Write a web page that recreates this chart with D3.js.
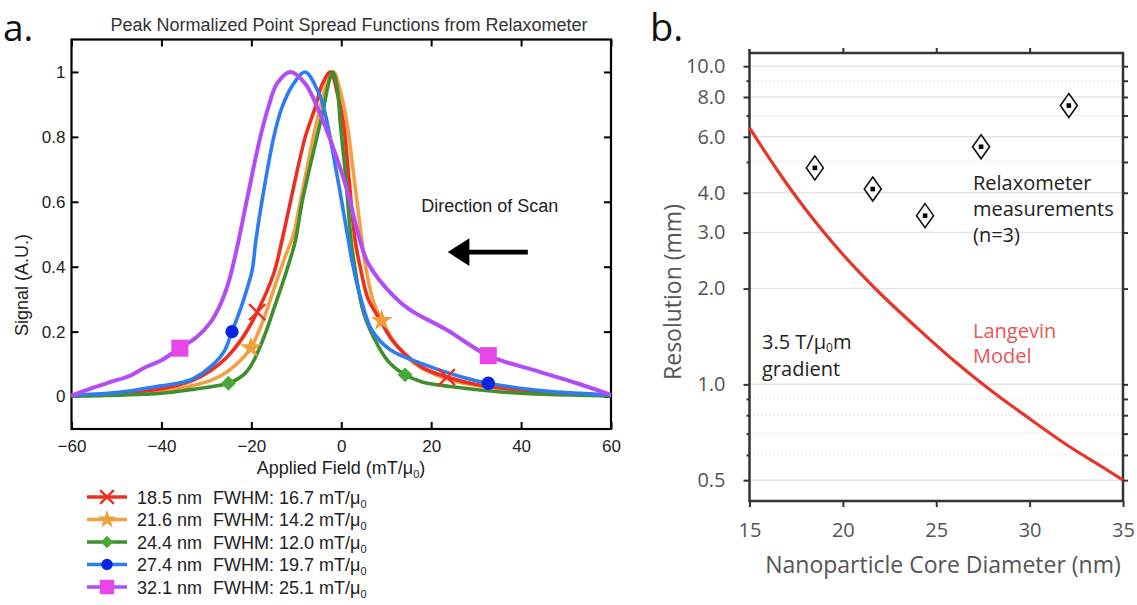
<!DOCTYPE html>
<html>
<head>
<meta charset="utf-8">
<script src="https://cdn.jsdelivr.net/npm/d3@7"></script>
<style>
  body { margin: 0; background: #fff; }
</style>
</head>
<body>
<div id="chart-area"></div>
<script>
// ---------- panel a data ----------
const fieldTicks = [-60, -40, -20, 0, 20, 40, 60]
const signalTicks = [0, 0.2, 0.4, 0.6, 0.8, 1]

const coreSizes = ["18.5 nm", "21.6 nm", "24.4 nm", "27.4 nm", "32.1 nm"]
const fwhmValues = ["16.7", "14.2", "12.0", "19.7", "25.1"]
const lineColors = ["#ee2f20", "#f2a043", "#3f8f2f", "#2c7df2", "#b34cf5"]
const markerColors = ["#ee2f20", "#eea03e", "#48a838", "#0a24e6", "#e846e8"]
const markerShapes = ["x", "star", "diamond", "circle", "square"]

// [applied field, signal]
const psf185 = [[-60,0.003],[-50,0.01],[-40,0.024],[-33,0.05],[-29,0.08],[-25.5,0.12],[-22,0.18],[-18.7,0.26],[-15,0.38],[-13.2,0.48],[-11.3,0.6],[-8,0.8],[-5.8,0.89],[-4.3,0.96],[-2.4,1.0],[-0.8,0.93],[0.5,0.84],[1.6,0.69],[3.1,0.48],[4.2,0.4],[6,0.3],[8.7,0.235],[11,0.18],[13.9,0.135],[18,0.09],[23.5,0.06],[30,0.037],[40,0.02],[50,0.01],[60,0.004]]
const psf216 = [[-60,0.002],[-50,0.006],[-40,0.015],[-33,0.034],[-29,0.05],[-25.5,0.075],[-22.5,0.11],[-20.1,0.15],[-17.5,0.23],[-15,0.33],[-12.5,0.43],[-10.6,0.5],[-9.1,0.6],[-6.2,0.8],[-4.7,0.89],[-3.2,0.965],[-1.7,1.0],[-0.2,0.94],[1.3,0.84],[2.7,0.69],[4.6,0.48],[5.3,0.41],[7,0.3],[9,0.234],[12.4,0.155],[16,0.105],[20.5,0.07],[26,0.045],[35,0.025],[45,0.012],[60,0.003]]
const psf244 = [[-60,0.001],[-50,0.004],[-40,0.01],[-33,0.022],[-29,0.03],[-25.1,0.041],[-21.5,0.07],[-19.5,0.11],[-17,0.19],[-15,0.27],[-12.1,0.39],[-10.2,0.48],[-8.7,0.6],[-5.4,0.8],[-3.9,0.89],[-2.9,0.96],[-1.9,1.0],[-0.9,0.95],[-0.2,0.84],[0.9,0.69],[2.2,0.48],[2.9,0.41],[5,0.257],[8.3,0.154],[11,0.1],[14.2,0.067],[18,0.045],[24.2,0.031],[35,0.015],[45,0.007],[60,0.002]]
const psf274 = [[-60,0.004],[-50,0.012],[-40,0.033],[-35,0.045],[-32.8,0.056],[-28.4,0.1],[-26,0.14],[-24.3,0.2],[-22.4,0.27],[-21,0.33],[-19.8,0.39],[-19,0.48],[-17.6,0.605],[-15,0.8],[-13.2,0.89],[-10.6,0.964],[-8,1.0],[-5.5,0.95],[-3.9,0.89],[-1,0.687],[1.6,0.48],[2.5,0.41],[4.2,0.31],[6.8,0.205],[10.9,0.144],[17.6,0.103],[26.4,0.062],[32.7,0.041],[42.7,0.021],[50,0.012],[60,0.005]]
const psf321 = [[-60,0.003],[-55,0.028],[-51.3,0.045],[-47,0.064],[-43.9,0.088],[-40,0.112],[-35.9,0.149],[-32,0.185],[-29,0.23],[-27,0.28],[-25,0.355],[-23,0.47],[-21,0.605],[-18,0.8],[-16.2,0.892],[-14.3,0.964],[-11.3,1.0],[-8,0.964],[-5,0.88],[-2.4,0.79],[1.3,0.636],[3.8,0.5],[6,0.41],[11.6,0.31],[15.3,0.267],[23.5,0.205],[32.7,0.126],[42.7,0.082],[52.4,0.041],[60,0.005]]

const marks185 = [[-18.7,0.26],[23.5,0.06]]
const marks216 = [[-20.1,0.15],[9.0,0.234]]
const marks244 = [[-25.1,0.041],[14.2,0.067]]
const marks274 = [[-24.3,0.2],[32.7,0.041]]
const marks321 = [[-35.9,0.149],[32.7,0.126]]

// ---------- panel b data ----------
const diameterTicks = [15, 20, 25, 30, 35]
const resMajorTicks = [0.5, 1, 2, 3, 4, 6, 8, 10]
const resMinorTicks = [0.6, 0.7, 0.8, 0.9, 5, 7, 9]
const langevinDiam = [15, 16.5, 18, 20, 22, 24, 26, 28, 30, 32, 34, 35]
const langevinRes = [6.4, 4.7, 3.55, 2.56, 1.93, 1.5, 1.18, 0.95, 0.78, 0.645, 0.545, 0.5]
const measDiam = [18.5, 21.6, 24.4, 27.4, 32.1]
const measRes = [4.79, 4.11, 3.39, 5.58, 7.52]

const series = [psf185, psf216, psf244, psf274, psf321].map((pts, i) => ({
    pts, marks: [marks185, marks216, marks244, marks274, marks321][i],
    label: coreSizes[i], fwhm: fwhmValues[i],
    line: lineColors[i], color: markerColors[i], shape: markerShapes[i]
}))

const FA = "'Liberation Sans', Arial, sans-serif"
const FB = "'Open Sans', 'Noto Sans', sans-serif"

const svg = d3.select("#chart-area").append("svg")
    .attr("width", 1137)
    .attr("height", 605)
    .style("font-family", FA)

// ================= panel a =================
const xA = d3.scaleLinear().domain([-60, 60]).range([71.5, 611])
const yA = d3.scaleLinear().domain([-0.1, 1.1]).range([429, 39.5])

svg.append("text").attr("x", 3).attr("y", 41)
    .attr("font-family", FB).attr("font-size", 37).attr("fill", "#111").text("a.")

svg.append("text").attr("x", 349).attr("y", 31)
    .attr("text-anchor", "middle").attr("font-size", 18).attr("fill", "#333")
    .text("Peak Normalized Point Spread Functions from Relaxometer")

// ticks (inward on all sides)
function styleA(g) {
    g.select(".domain").remove()
    g.selectAll("line").attr("stroke", "#000").attr("stroke-width", 2)
    g.selectAll("text").attr("font-family", FA).attr("font-size", 17).attr("fill", "#222")
}
svg.append("g").attr("transform", `translate(0,${yA.range()[0]})`)
    .call(d3.axisBottom(xA).tickValues(fieldTicks).tickSizeInner(-7).tickSizeOuter(0).tickPadding(11))
    .call(styleA)
svg.append("g").attr("transform", `translate(0,${yA.range()[1]})`)
    .call(d3.axisTop(xA).tickValues(fieldTicks).tickSizeInner(-7).tickSizeOuter(0).tickFormat(""))
    .call(styleA)
svg.append("g").attr("transform", `translate(${xA.range()[0]},0)`)
    .call(d3.axisLeft(yA).tickValues(signalTicks).tickSizeInner(-7).tickSizeOuter(0).tickPadding(6)
        .tickFormat(d => (d === 0 || d === 1) ? d : d.toFixed(1)))
    .call(styleA)
svg.append("g").attr("transform", `translate(${xA.range()[1]},0)`)
    .call(d3.axisRight(yA).tickValues(signalTicks).tickSizeInner(-7).tickSizeOuter(0).tickFormat(""))
    .call(styleA)

svg.append("rect")
    .attr("x", xA.range()[0]).attr("y", yA.range()[1])
    .attr("width", xA.range()[1] - xA.range()[0]).attr("height", yA.range()[0] - yA.range()[1])
    .attr("fill", "none").attr("stroke", "#000").attr("stroke-width", 2.2)

// axis labels
const xLab = svg.append("text").attr("x", 341).attr("y", 474)
    .attr("text-anchor", "middle").attr("font-size", 18).attr("fill", "#222")
xLab.append("tspan").text("Applied Field (mT/μ")
xLab.append("tspan").attr("font-size", 11).attr("dy", 4).text("0")
xLab.append("tspan").attr("dy", -4).text(")")

svg.append("text").attr("transform", "translate(28,285) rotate(-90)")
    .attr("text-anchor", "middle").attr("font-size", 18).attr("fill", "#222")
    .text("Signal (A.U.)")

// direction of scan annotation
svg.append("text").attr("x", xA(17.8)).attr("y", yA(0.57))
    .attr("font-size", 18).attr("fill", "#222").text("Direction of Scan")
const arrowShape = [[41.5, 0.4525], [28.5, 0.4525], [28.5, 0.488], [23.7, 0.445], [28.5, 0.402], [28.5, 0.4375], [41.5, 0.4375]]
svg.append("path")
    .attr("d", d3.line().x(d => xA(d[0])).y(d => yA(d[1]))(arrowShape) + "Z")
    .attr("fill", "#000")

// curves
const lineA = d3.line().x(d => xA(d[0])).y(d => yA(d[1])).curve(d3.curveCatmullRom.alpha(0.5))
const drawOrder = [1, 0, 2, 3, 4]
drawOrder.forEach(i => {
    svg.append("path").attr("d", lineA(series[i].pts))
        .attr("fill", "none").attr("stroke", series[i].line)
        .attr("stroke-width", i === 4 ? 4 : 3.6).attr("stroke-linejoin", "round")
})

function drawMarker(sel, s, x, y, scale) {
    const k = scale || 1
    if (s.shape === "x") {
        sel.append("path").attr("d", d3.symbol(d3.symbolTimes || d3.symbolX, 170 * k * k)())
            .attr("transform", `translate(${x},${y})`)
            .attr("fill", "none").attr("stroke", s.color).attr("stroke-width", 2.4)
    } else if (s.shape === "star") {
        sel.append("path").attr("d", d3.symbol(d3.symbolStar, 150 * k * k)())
            .attr("transform", `translate(${x},${y})`).attr("fill", s.color)
    } else if (s.shape === "diamond") {
        sel.append("path").attr("d", d3.symbol(d3.symbolSquare, 110 * k * k)())
            .attr("transform", `translate(${x},${y}) rotate(45)`).attr("fill", s.color)
    } else if (s.shape === "circle") {
        sel.append("path").attr("d", d3.symbol(d3.symbolCircle, 140 * k * k)())
            .attr("transform", `translate(${x},${y})`).attr("fill", s.color)
    } else {
        sel.append("path").attr("d", d3.symbol(d3.symbolSquare, 290 * k * k)())
            .attr("transform", `translate(${x},${y})`).attr("fill", s.color)
    }
}

series.forEach(s => {
    s.marks.forEach(m => drawMarker(svg, s, xA(m[0]), yA(m[1])))
})

// legend
const legendRows = [497, 519.5, 542, 564.5, 587]
series.forEach((s, i) => {
    const ly = legendRows[i]
    svg.append("line").attr("x1", 87).attr("x2", 127).attr("y1", ly).attr("y2", ly)
        .attr("stroke", s.line).attr("stroke-width", 3.6)
    drawMarker(svg, s, 107, ly, 0.85)
    svg.append("text").attr("x", 137).attr("y", ly + 6.5)
        .attr("font-size", 18).attr("fill", "#222").text(s.label)
    const t = svg.append("text").attr("x", 213).attr("y", ly + 6.5)
        .attr("font-size", 18).attr("fill", "#222")
    t.append("tspan").text(`FWHM: ${s.fwhm} mT/μ`)
    t.append("tspan").attr("font-size", 11).attr("dy", 4).text("0")
})

// ================= panel b =================
const xB = d3.scaleLinear().domain([15, 35]).range([749.5, 1123])
const yB = d3.scaleLog().domain([0.43, 11]).range([501, 53])

svg.append("text").attr("x", 650).attr("y", 41)
    .attr("font-family", FB).attr("font-size", 38).attr("fill", "#111").text("b.")

// grid
svg.append("g").selectAll("line").data(resMajorTicks).join("line")
    .attr("x1", xB.range()[0]).attr("x2", xB.range()[1])
    .attr("y1", d => yB(d)).attr("y2", d => yB(d))
    .attr("stroke", "#e4e4e4").attr("stroke-width", 1.5)
svg.append("g").selectAll("line").data(resMinorTicks).join("line")
    .attr("x1", xB.range()[0]).attr("x2", xB.range()[1])
    .attr("y1", d => yB(d)).attr("y2", d => yB(d))
    .attr("stroke", "#c8c8c8").attr("stroke-width", 1).attr("stroke-dasharray", "1,3")

function styleB(g) {
    g.select(".domain").remove()
    g.selectAll("line").attr("stroke", "#333").attr("stroke-width", 2)
    g.selectAll("text").attr("font-family", FB).attr("font-size", 20).attr("fill", "#555")
}
svg.append("g").attr("transform", `translate(${xB.range()[0]},0)`)
    .call(d3.axisLeft(yB).tickValues(resMajorTicks).tickSize(6).tickPadding(18).tickFormat(d3.format(".1f")))
    .call(styleB)
svg.append("g").attr("transform", `translate(${xB.range()[0]},0)`)
    .call(d3.axisLeft(yB).tickValues(resMinorTicks).tickSize(3).tickFormat(""))
    .call(styleB)
svg.append("g").attr("transform", `translate(${xB.range()[1]},0)`)
    .call(d3.axisRight(yB).tickValues(resMajorTicks.concat(resMinorTicks)).tickSize(5).tickFormat(""))
    .call(styleB)
svg.append("g").attr("transform", `translate(0,${yB.range()[0]})`)
    .call(d3.axisBottom(xB).tickValues(diameterTicks).tickSize(6).tickPadding(16).tickFormat(d3.format("d")))
    .call(styleB)
svg.append("g").attr("transform", `translate(0,${yB.range()[1]})`)
    .call(d3.axisTop(xB).tickValues(diameterTicks.slice(1, -1)).tickSize(5).tickFormat(""))
    .call(styleB)

svg.append("path")
    .attr("d", `M${xB.range()[0]},${yB.range()[1] - 4}V${yB.range()[0]}H${xB.range()[1]}V${yB.range()[1]}H${xB.range()[0]}`)
    .attr("fill", "none").attr("stroke", "#333").attr("stroke-width", 2.5)

svg.append("text").attr("x", 943).attr("y", 573)
    .attr("text-anchor", "middle").attr("font-family", FB).attr("font-size", 23).attr("fill", "#555")
    .text("Nanoparticle Core Diameter (nm)")
svg.append("text").attr("transform", "translate(681,292) rotate(-90)")
    .attr("text-anchor", "middle").attr("font-family", FB).attr("font-size", 23).attr("fill", "#555")
    .text("Resolution (mm)")

// Langevin model curve
const lineB = d3.line().x(d => xB(d[0])).y(d => yB(d[1])).curve(d3.curveMonotoneX)
svg.append("path").attr("d", lineB(langevinDiam.map((d, i) => [d, langevinRes[i]])))
    .attr("fill", "none").attr("stroke", "#e8352a").attr("stroke-width", 3.2)

// relaxometer measurements
const diamondPath = "M0,-12L8.5,0L0,12L-8.5,0Z"
const meas = svg.append("g").selectAll("g").data(measDiam.map((d, i) => [d, measRes[i]])).join("g")
    .attr("transform", d => `translate(${xB(d[0])},${yB(d[1])})`)
meas.append("path").attr("d", diamondPath)
    .attr("fill", "#fff").attr("stroke", "#111").attr("stroke-width", 1.6)
meas.append("rect").attr("x", -2.3).attr("y", -2.3).attr("width", 4.6).attr("height", 4.6).attr("fill", "#000")

// annotations
const relax = svg.append("text").attr("font-family", FB).attr("font-size", 20).attr("fill", "#222")
;["Relaxometer", "measurements", "(n=3)"].forEach((s, i) => {
    relax.append("tspan").attr("x", 973).attr("y", 190 + i * 26).text(s)
})
const grad1 = svg.append("text").attr("x", 762).attr("y", 349)
    .attr("font-family", FB).attr("font-size", 20).attr("fill", "#222")
grad1.append("tspan").text("3.5 T/μ")
grad1.append("tspan").attr("font-size", 12).attr("dy", 3).text("0")
grad1.append("tspan").attr("dy", -3).text("m")
svg.append("text").attr("x", 762).attr("y", 376)
    .attr("font-family", FB).attr("font-size", 20).attr("fill", "#222").text("gradient")
const lang = svg.append("text").attr("font-family", FB).attr("font-size", 20).attr("fill", "#e8555a")
lang.append("tspan").attr("x", 973).attr("y", 338).text("Langevin")
lang.append("tspan").attr("x", 973).attr("y", 363).text("Model")
</script>
</body>
</html>
